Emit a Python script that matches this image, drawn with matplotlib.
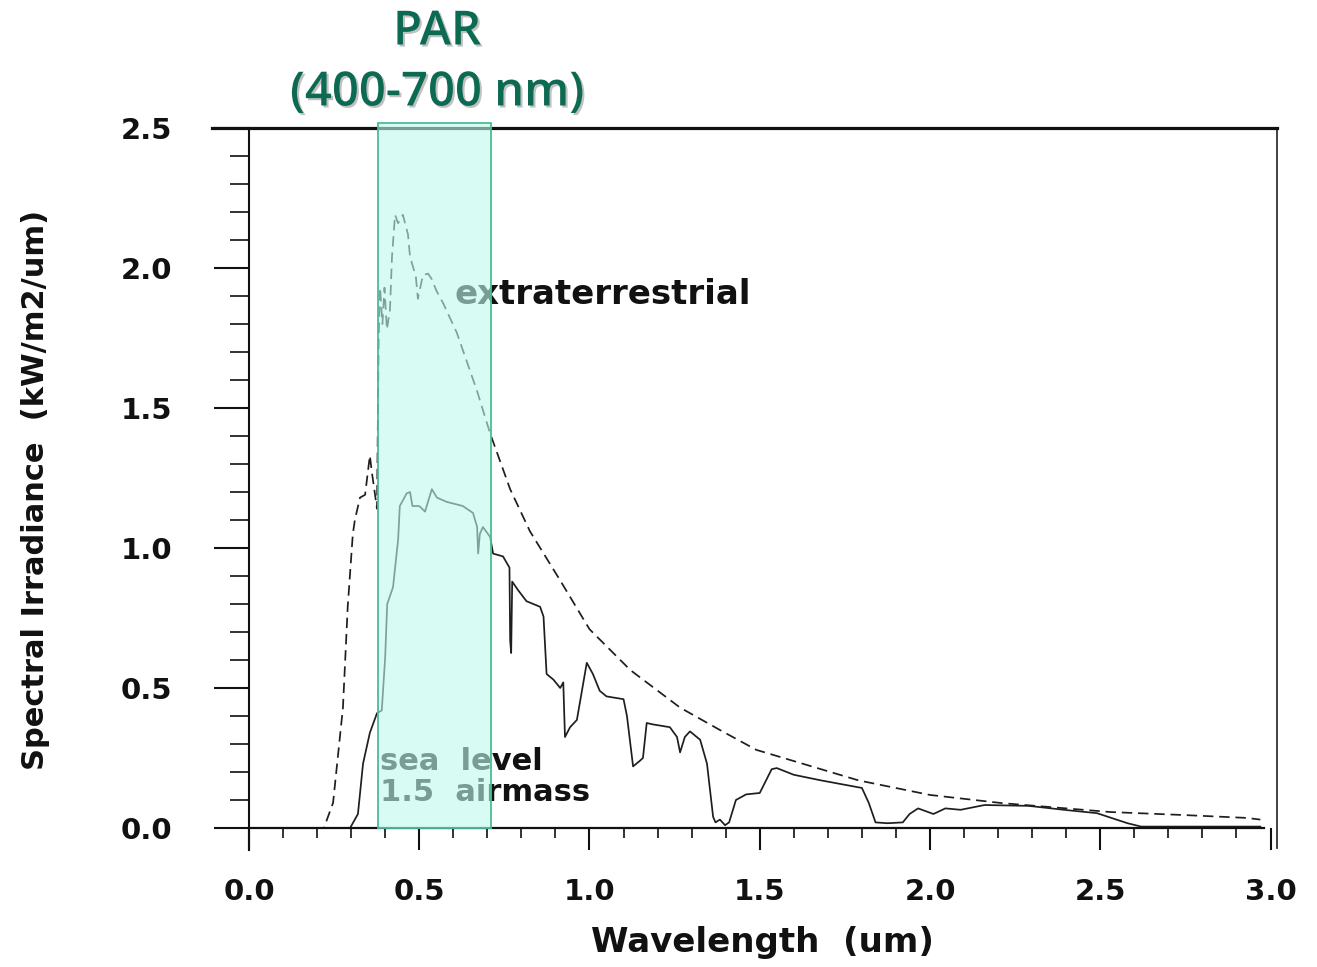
import matplotlib
matplotlib.use('Agg')
import matplotlib.pyplot as plt
from matplotlib.patches import Rectangle
from matplotlib.ticker import FixedLocator, FormatStrFormatter
import matplotlib.patheffects as pe

# ---------------- data ----------------
ext_wl = [0.05, 0.22, 0.247, 0.276, 0.29, 0.305, 0.311, 0.326, 0.341, 0.355, 0.361,
          0.376, 0.381, 0.385, 0.392, 0.398, 0.405, 0.414, 0.42, 0.429, 0.438, 0.452,
          0.467, 0.473, 0.49, 0.496, 0.511, 0.526, 0.537, 0.55, 0.57, 0.61, 0.67,
          0.708, 0.767, 0.825, 0.913, 1.0, 1.12, 1.266, 1.383, 1.49, 1.79, 2.0,
          2.21, 2.53, 2.75, 2.93, 2.97]
ext_val = [0.0, 0.0, 0.09, 0.43, 0.79, 1.05, 1.10, 1.18, 1.19, 1.33, 1.27,
           1.14, 1.75, 1.93, 1.80, 1.93, 1.78, 1.85, 2.04, 2.19, 2.16, 2.19,
           2.12, 2.04, 1.97, 1.89, 1.975, 1.98, 1.96, 1.92, 1.875, 1.77, 1.56,
           1.41, 1.21, 1.06, 0.886, 0.71, 0.564, 0.43, 0.35, 0.279, 0.17, 0.118,
           0.089, 0.057, 0.046, 0.036, 0.03]

sea_wl = [0.05, 0.297, 0.32, 0.335, 0.355, 0.376, 0.39, 0.40, 0.406, 0.423, 0.438,
          0.443, 0.463, 0.473, 0.48, 0.50, 0.517, 0.537, 0.552, 0.58, 0.628, 0.658,
          0.67, 0.673, 0.678, 0.687, 0.708, 0.717, 0.746, 0.765, 0.767, 0.77, 0.773,
          0.79, 0.815, 0.855, 0.865, 0.874, 0.894, 0.914, 0.923, 0.928, 0.943, 0.963,
          0.992, 1.01, 1.03, 1.05, 1.10, 1.11, 1.128, 1.148, 1.157, 1.168, 1.186,
          1.236, 1.257, 1.266, 1.28, 1.295, 1.325, 1.345, 1.363, 1.37, 1.383, 1.398,
          1.41, 1.43, 1.46, 1.50, 1.535, 1.55, 1.6, 1.68, 1.8, 1.82, 1.84, 1.875,
          1.92, 1.94, 1.965, 2.01, 2.045, 2.09, 2.16, 2.29, 2.40, 2.49, 2.58, 2.62,
          2.97]
sea_val = [0.0, 0.0, 0.05, 0.23, 0.34, 0.41, 0.42, 0.61, 0.80, 0.86, 1.03,
           1.15, 1.195, 1.20, 1.15, 1.15, 1.13, 1.21, 1.18, 1.165, 1.15, 1.125,
           1.075, 0.98, 1.05, 1.075, 1.04, 0.98, 0.97, 0.93, 0.67, 0.625, 0.88,
           0.85, 0.81, 0.79, 0.755, 0.55, 0.53, 0.50, 0.52, 0.325, 0.36, 0.386,
           0.59, 0.55, 0.49, 0.47, 0.46, 0.40, 0.22, 0.24, 0.25, 0.375, 0.37,
           0.36, 0.325, 0.27, 0.325, 0.345, 0.315, 0.23, 0.04, 0.02, 0.03, 0.01,
           0.02, 0.10, 0.12, 0.125, 0.21, 0.214, 0.19, 0.17, 0.143, 0.09, 0.02, 0.017,
           0.02, 0.05, 0.07, 0.05, 0.07, 0.065, 0.082, 0.079, 0.064, 0.053, 0.017, 0.005,
           0.005]

par_band = [0.38, 0.71]      # highlighted band (um)
par_top = 2.518
x_major = [0.0, 0.5, 1.0, 1.5, 2.0, 2.5, 3.0]
y_major = [0.0, 0.5, 1.0, 1.5, 2.0, 2.5]
x_minor = [i / 10 for i in range(1, 30)]
y_minor = [i / 10 for i in range(1, 25)]

# ---------------- figure ----------------
plt.rcParams['lines.scale_dashes'] = False
plt.rcParams['font.family'] = ['DejaVu Sans']

fig = plt.figure(figsize=(13.17, 9.67), dpi=100)
fig.patch.set_facecolor('white')
ax = fig.add_axes([0.1606, 0.1148, 0.8093, 0.7528])
ax.set_xlim(-0.11, 3.02)
ax.set_ylim(-0.1, 2.5)

ax.plot(ext_wl, ext_val, color='#1e1e1e', lw=1.25, dashes=(7.5, 4.2), zorder=2)
ax.plot(sea_wl, sea_val, color='#1e1e1e', lw=1.25, zorder=2)

# spines
ax.spines['left'].set_position(('data', 0))
ax.spines['left'].set_bounds(-0.08, 2.5)
ax.spines['left'].set_linewidth(1.5)
ax.spines['bottom'].set_position(('data', 0))
ax.spines['bottom'].set_bounds(0, 2.98)
ax.spines['bottom'].set_linewidth(1.6)
ax.spines['right'].set_bounds(-0.07, 2.5)
ax.spines['right'].set_linewidth(1.3)
ax.spines['right'].set_color('#333333')
ax.spines['top'].set_linewidth(2.3)
for s in ['left', 'bottom', 'top']:
    ax.spines[s].set_color('#111111')

ax.xaxis.set_major_locator(FixedLocator(x_major))
ax.xaxis.set_minor_locator(FixedLocator(x_minor))
ax.yaxis.set_major_locator(FixedLocator(y_major))
ax.yaxis.set_minor_locator(FixedLocator(y_minor))
ax.xaxis.set_major_formatter(FormatStrFormatter('%.1f'))
ax.yaxis.set_major_formatter(FormatStrFormatter('%.1f'))

ax.tick_params(axis='y', which='major', direction='out', length=25, width=1.5,
               pad=30, labelsize=21, colors='#111111')
ax.tick_params(axis='y', which='minor', direction='out', length=13.5, width=1.3,
               colors='#222222')
ax.tick_params(axis='x', which='major', direction='out', length=16, width=1.5,
               pad=20, labelsize=21, colors='#111111')
ax.tick_params(axis='x', which='minor', direction='out', length=7, width=1.3,
               colors='#222222')
for lab in ax.get_xticklabels() + ax.get_yticklabels():
    lab.set_fontweight('bold')

ax.set_xlabel('Wavelength  (um)', fontsize=24.5, fontweight='bold', color='#111111')
ax.xaxis.set_label_coords(0.5165, -0.1195)
ax.xaxis.label.set_va('center')
ax.set_ylabel('Spectral Irradiance  (kW/m2/um)', fontsize=22, fontweight='bold',
              color='#111111')
ax.yaxis.set_label_coords(-0.1656, 0.5027)
ax.yaxis.label.set_va('center')

# annotations
ax.text(0.605, 1.907, 'extraterrestrial', fontsize=24.5, fontweight='bold',
        color='#111111', va='center', ha='left', zorder=3)
ax.text(0.385, 0.236, 'sea  level', fontsize=22, fontweight='bold',
        color='#111111', va='center', ha='left', zorder=3)
ax.text(0.385, 0.125, '1.5  airmass', fontsize=22, fontweight='bold',
        color='#111111', va='center', ha='left', zorder=3)

# PAR band
rect = Rectangle((par_band[0], 0), par_band[1] - par_band[0], par_top,
                 facecolor=(0.75, 0.98, 0.93, 0.6), edgecolor='#4cbb98',
                 lw=1.3, zorder=5, clip_on=False)
ax.add_patch(rect)

shadow = [pe.withSimplePatchShadow(offset=(1.5, -1.5), shadow_rgbFace='#777777', alpha=0.45)]
title_color = '#0d6a52'
fig.text(437 / 1317, 1 - 32 / 967, 'PAR', fontsize=34, family='Open Sans',
         fontweight='semibold', color=title_color, ha='center', va='center',
         path_effects=shadow)
fig.text(437 / 1317, 1 - 93 / 967, '(400-700 nm)', fontsize=34, family='Open Sans',
         fontweight='semibold', color=title_color, ha='center', va='center',
         path_effects=shadow)

fig.savefig('out.png', dpi=100, facecolor='white')
